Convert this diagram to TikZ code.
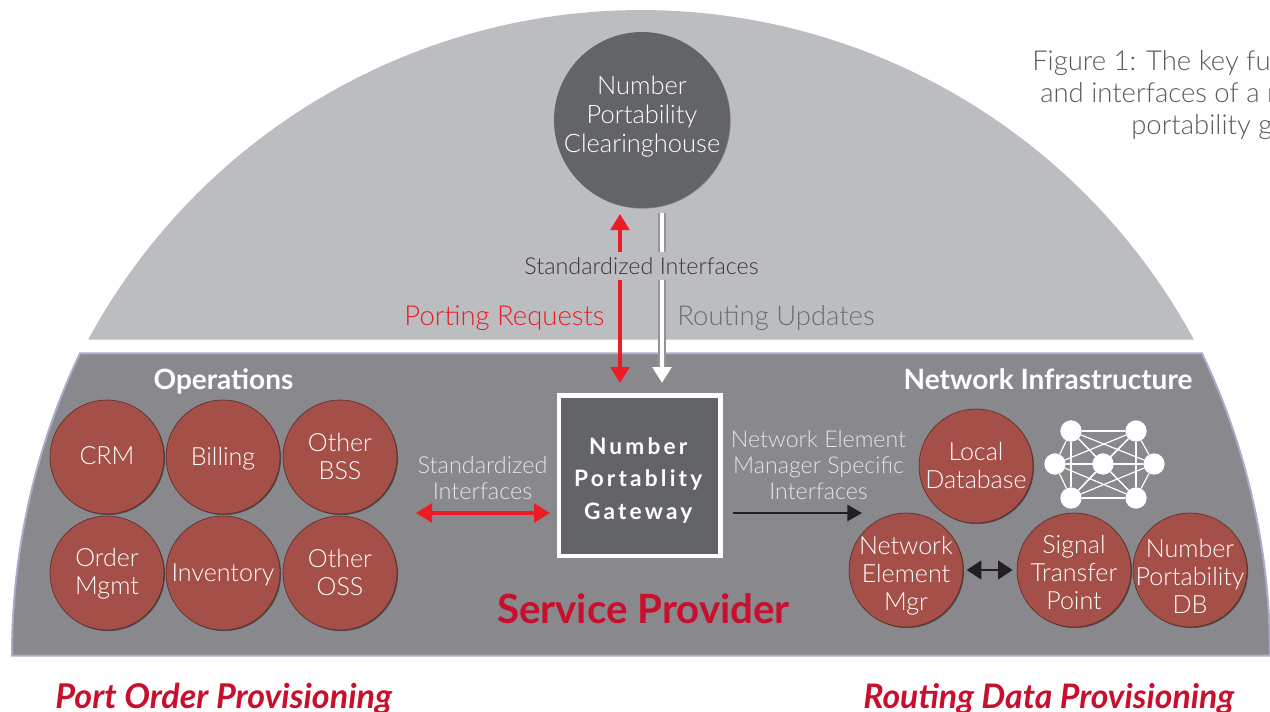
\documentclass[tikz,border=0pt]{standalone}
\usepackage{fontspec}
\setmainfont{Lato Light}[BoldFont=Lato Bold,ItalicFont=Lato Light Italic,BoldItalicFont=Lato Bold Italic]
\newfontfamily\gwfont{Lato Bold}[LetterSpace=14]
\usetikzlibrary{arrows.meta,shadows}
\definecolor{dome}{HTML}{BCBDC0}
\definecolor{panel}{HTML}{88888D}
\definecolor{rim}{HTML}{A9ABC8}
\definecolor{slate}{HTML}{636467}
\definecolor{brick}{HTML}{A44F48}
\definecolor{redline}{HTML}{ED1C24}
\definecolor{crimson}{HTML}{C8102E}
\definecolor{inkdark}{HTML}{231F20}
\definecolor{softgrey}{HTML}{E4E4E6}
\definecolor{updgrey}{HTML}{6D6E71}
\definecolor{notegrey}{HTML}{58595B}
\newcommand{\px}[2]{\fontsize{#1}{#2}\selectfont}
\tikzset{
  x=0.75pt,y=-0.75pt,
  ball/.style 2 args={circle,inner sep=0pt,minimum size=85.5pt,fill=brick,draw=brick!60!black,line width=0.5pt,
     drop shadow={shadow xshift=0.8pt,shadow yshift=-0.8pt,opacity=.45,fill=black},
     label={[balltext,yshift=#2]center:{#1}}},
  balltext/.style={text=white,align=center,font=\px{18.8}{21}},
  dot/.style={circle,fill=white,inner sep=0pt,minimum size=16pt},
  mesh/.style={draw=white,line width=0.9pt},
  redarrow/.style={draw=redline,line width=2.6pt,{Triangle[length=12pt,width=14pt]}-{Triangle[length=12pt,width=14pt]}},
  blackarrow/.style={draw=inkdark,line width=1.8pt,-{Triangle[length=11pt,width=12pt]}},
  blackboth/.style={draw=inkdark,line width=2pt,{Triangle[length=11pt,width=14pt]}-{Triangle[length=11pt,width=14pt]}},
  softtext/.style={text=softgrey,align=center,font=\px{17.6}{19.4},inner sep=0pt},
  softsmall/.style={softtext,font=\px{17.4}{19.4}},
  head/.style={text=white,font=\bfseries\px{21}{24},inner sep=0pt,anchor=base},
  topic/.style={text=crimson,font=\bfseries\itshape\px{25.6}{28},inner sep=0pt,anchor=base west},
  note/.style={text=notegrey,font=\px{20.6}{24},inner sep=0pt,anchor=base west},
}
\begin{document}
\begin{tikzpicture}
\useasboundingbox (0,0) rectangle (1270,711);
% dome
\fill[dome] plot[domain=28.4:151.6,samples=90] ({641+628.5*cos(\x)},{638.5-628.5*sin(\x)}) -- cycle;
% service provider panel
\path[fill=panel,draw=rim,line width=1.5pt]
  plot[domain=180:153.1,samples=50] ({641+629*cos(\x)},{655.5-668*sin(\x)})
  -- plot[domain=26.9:0,samples=50] ({641+629*cos(\x)},{655.5-668*sin(\x)}) -- cycle;
% hub nodes
\node[circle,inner sep=0pt,minimum size=132pt,fill=slate,
      drop shadow={shadow xshift=0.5pt,shadow yshift=-0.5pt,opacity=.3,fill=black},
      label={[text=white,align=center,font=\px{19.1}{22},yshift=2.6pt]center:{Number\\Portability\\Clearinghouse}}] (ch) at (642,120) {};
\node[rectangle,inner sep=0pt,minimum width=121pt,minimum height=120.5pt,fill=slate,draw=white,line width=3.5pt,
      label={[text=white,align=center,font=\gwfont\px{17}{24.4},yshift=-3.5pt,xshift=-1pt]center:{Number\\Portablity\\Gateway}}] (gw) at (639.5,475.5) {};
% vertical interfaces
\coordinate (rtop) at (620,214);
\coordinate (rbot) at (620,383);
\coordinate (wtop) at (662,213);
\coordinate (wbot) at (662,383);
\coordinate (wgrey) at (662,372);
\draw[redarrow] (rtop) -- (rbot);
\draw[draw=panel!90!white,line width=5.6pt] (wtop) -- (wgrey);
\draw[draw=white,line width=2.8pt,-{Triangle[length=12pt,width=14pt]}] (wtop) -- (wbot);
\node[fill=dome,inner xsep=1pt,inner ysep=4pt,text=inkdark!90,font=\px{17.5}{20}] (si) at (641.5,266) {Standardized Interfaces};
\node[text=redline,font=\px{20.6}{24},inner sep=0pt] (pr) at (504.5,318) {Porting Requests};
\node[text=updgrey,font=\px{20.6}{24},inner sep=0pt] (ru) at (776,318) {Routing Updates};
% figure note
\node[note] (n1) at (1032,70) {Figure 1:  The key fu};
\node[note] (n2) at (1040,102) {and interfaces of a r};
\node[note] (n3) at (1131,134) {portability g};
% headings
\node[head] (ops) at (223.5,389) {Operations};
\node[head] (net) at (1048,389) {Network Infrastructure};
% operations
\node[ball={CRM}{0.7pt}] (crm) at (107,457) {};
\node[ball={Billing}{-1.5pt}] (bil) at (223,457) {};
\node[ball={Other\\BSS}{0.5pt}] (bss) at (340,457) {};
\node[ball={Order\\Mgmt}{-0.7pt}] (ord) at (107,573) {};
\node[ball={Inventory}{-1.5pt}] (inv) at (223,573) {};
\node[ball={Other\\OSS}{0.5pt}] (oss) at (340,573) {};
% network infrastructure
\node[ball={Local\\Database}{0.7pt}] (ldb) at (976,466) {};
\node[ball={Network\\Element\\Mgr}{-4.5pt}] (nem) at (906,570) {};
\node[ball={Signal\\Transfer\\Point}{-1.5pt}] (stp) at (1074,570) {};
\node[ball={Number\\Portability\\DB}{-4.5pt}] (npd) at (1190,570) {};
% mesh
\node[dot] (m1) at (1071,431) {};
\node[dot] (m2) at (1136,431) {};
\node[dot] (m3) at (1055,464) {};
\node[dot] (m4) at (1103,464) {};
\node[dot] (m5) at (1154,464) {};
\node[dot] (m6) at (1071,498) {};
\node[dot] (m7) at (1136,498) {};
\foreach \a/\b in {m1/m2,m1/m3,m1/m4,m1/m5,m1/m6,m1/m7,m2/m3,m2/m4,m2/m5,m2/m6,m2/m7,m3/m4,m3/m5,m3/m6,m3/m7,m4/m5,m4/m6,m4/m7,m5/m6,m5/m7,m6/m7}
  \draw[mesh] (\a) -- (\b);
% horizontal interfaces
\node[softtext] (sl) at (482.5,478) {Standardized\\Interfaces};
\node[softsmall] (nl) at (818.5,465) {Network Element\\Manager Specific\\Interfaces};
\coordinate (la) at (416,513);
\coordinate (lb) at (550,513);
\coordinate (ra) at (733,513);
\coordinate (rb) at (862,513);
\draw[redarrow] (la) -- (lb);
\draw[blackarrow] (ra) -- (rb);
\draw[blackboth,shorten <=2.5pt,shorten >=3pt] (nem) -- (stp);
% titles
\node[text=crimson,font=\bfseries\px{30.2}{32},inner sep=0pt] (sp) at (643.5,609) {Service Provider};
\node[topic] (po) at (55,708) {Port Order Provisioning};
\node[topic,font=\bfseries\itshape\px{25.35}{28}] (rd) at (863,708) {Routing Data Provisioning};
\end{tikzpicture}
\end{document}
